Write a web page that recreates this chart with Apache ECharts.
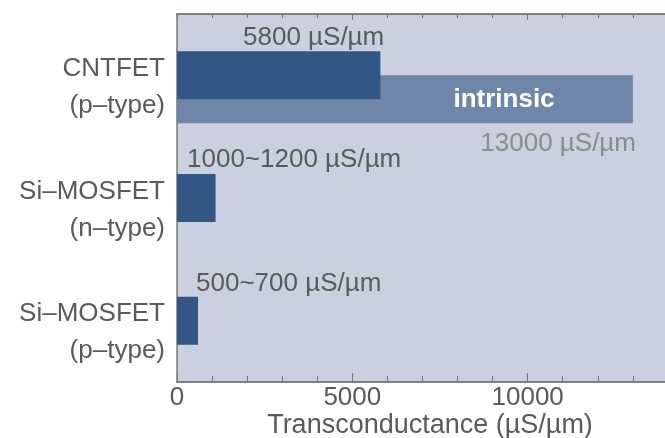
<!DOCTYPE html>
<html>
<head>
<meta charset="utf-8">
<script src="https://cdn.jsdelivr.net/npm/echarts@6/dist/echarts.min.js"></script>
<style>
html,body{margin:0;padding:0;background:#fff}
#main{width:665px;height:438px}
</style>
</head>
<body>
<div id="main"></div>
<script>
// chart data
var devices = ['CNTFET\n(p–type)', 'Si–MOSFET\n(n–type)', 'Si–MOSFET\n(p–type)'];
var measured = [5800, 1100, 600];
var measuredText = ['5800 µS/µm', '1000~1200 µS/µm', '500~700 µS/µm'];
var intrinsic = [13000, '-', '-'];
var intrinsicText = ['13000 µS/µm', '', ''];
var xLabels = [0, 5000, 10000];

var font = 'Liberation Sans, Arial, sans-serif';
var textColor = '#5a5a5a';
var axisColor = '#5f5f5f';
// label offsets (relative to each bar)
var measuredLabelPos = [[66, -14], [10, -14], [19, -13]];

var myChart = echarts.init(document.getElementById('main'));

var measuredData = measured.map(function(v, i){
    return {
        value: v,
        label: {
            show: true,
            formatter: measuredText[i],
            position: measuredLabelPos[i],
            align: 'left',
            verticalAlign: 'middle'
        }
    };
});

var xCommon = {
    type: 'value',
    min: 0,
    max: 15000,
    interval: 5000,
    splitLine: { show: false }
};

var option = {
    animation: false,
    textStyle: { fontFamily: font },
    grid: [
        { left: 177, width: 526, top: 14, bottom: 56, outerBoundsMode: 'none', containLabel: false,
          show: true, backgroundColor: '#cbd0e1', borderWidth: 0 },
        { left: 177, width: 526, top: 38, bottom: 32, outerBoundsMode: 'none', containLabel: false }
    ],
    xAxis: [
        Object.assign({}, xCommon, {
            gridIndex: 0,
            position: 'bottom',
            axisLine: { show: true, lineStyle: { color: axisColor, width: 1.5 } },
            axisTick: { show: true, inside: true, length: 9, lineStyle: { color: '#777' } },
            minorTick: { show: true, splitNumber: 5, length: 6, lineStyle: { color: '#777' } },
            axisLabel: {
                color: textColor, fontSize: 26, margin: 3, fontFamily: font,
                formatter: function(v){ return xLabels.indexOf(v) >= 0 ? String(v) : ''; }
            },
            name: 'Transconductance (µS/µm)',
            nameLocation: 'middle',
            nameMoveOverlap: false,
            nameGap: 44,
            nameTextStyle: {
                color: textColor, fontSize: 27, fontFamily: font,
                verticalAlign: 'middle', padding: [0, 20, 0, 0]
            }
        }),
        Object.assign({}, xCommon, {
            gridIndex: 0,
            position: 'top',
            axisLine: { show: true, lineStyle: { color: axisColor, width: 1.5 } },
            axisTick: { show: true, inside: true, length: 6, lineStyle: { color: '#777' } },
            minorTick: { show: true, splitNumber: 5, length: 4, lineStyle: { color: '#777' } },
            axisLabel: { show: false }
        }),
        Object.assign({}, xCommon, { gridIndex: 1, show: false })
    ],
    yAxis: [
        {
            type: 'category',
            gridIndex: 0,
            data: devices,
            inverse: true,
            axisLine: { show: true, lineStyle: { color: '#7a7a7a', width: 1.5 } },
            axisTick: { show: false },
            axisLabel: {
                margin: 12,
                align: 'right',
                formatter: function(v){
                    var lines = v.split('\n');
                    return '{s| }\n{t|' + lines[0] + '}\n{t|' + lines[1] + '}';
                },
                rich: {
                    s: { lineHeight: 24, fontSize: 10 },
                    t: { color: textColor, fontSize: 26, lineHeight: 37, fontFamily: font, align: 'right' }
                }
            }
        },
        {
            type: 'category',
            gridIndex: 1,
            data: devices,
            inverse: true,
            show: false
        }
    ],
    series: [
        {
            name: 'intrinsic',
            type: 'bar',
            xAxisIndex: 2,
            yAxisIndex: 1,
            data: intrinsic,
            barWidth: 48,
            z: 1,
            itemStyle: { color: '#6f86a8' },
            label: {
                show: true,
                formatter: 'intrinsic',
                position: [327, 24],
                align: 'center',
                verticalAlign: 'middle',
                color: '#fff',
                fontWeight: 'bold',
                fontSize: 26,
                fontFamily: font
            }
        },
        {
            name: 'intrinsic value',
            type: 'bar',
            xAxisIndex: 2,
            yAxisIndex: 1,
            data: intrinsic,
            barWidth: 48,
            barGap: '-100%',
            z: 1,
            itemStyle: { color: 'rgba(0,0,0,0)' },
            label: {
                show: true,
                formatter: function(p){ return intrinsicText[p.dataIndex]; },
                position: [459, 68],
                align: 'right',
                verticalAlign: 'middle',
                color: '#8c8c8c',
                fontSize: 26,
                fontFamily: font
            }
        },
        {
            name: 'measured',
            type: 'bar',
            xAxisIndex: 0,
            yAxisIndex: 0,
            data: measuredData,
            barWidth: 48,
            z: 3,
            itemStyle: { color: '#325784' },
            label: { color: textColor, fontSize: 26, fontFamily: font }
        }
    ]
};
myChart.setOption(option);
</script>
</body>
</html>
